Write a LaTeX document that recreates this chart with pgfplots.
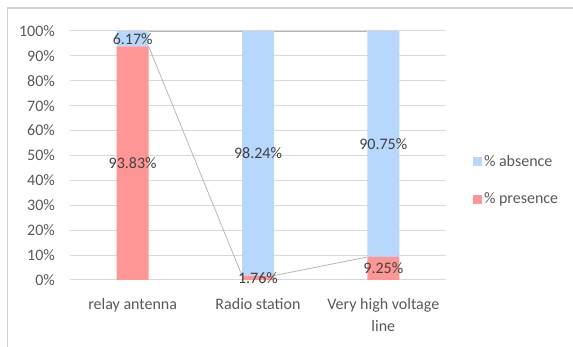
\documentclass[border=0pt]{standalone}
\usepackage{pgfplots}
\usepackage{pgfplotstable}
\pgfplotsset{compat=1.18}
\usepackage{fontspec}
\setmainfont{Carlito}
\definecolor{presence}{RGB}{255,150,150}
\definecolor{absence}{RGB}{183,215,253}
\definecolor{txt}{RGB}{89,89,89}
\definecolor{lbl}{RGB}{64,64,64}
\definecolor{gridc}{RGB}{217,217,217}
\definecolor{framec}{RGB}{212,212,212}
\definecolor{serc}{RGB}{180,180,180}

\pgfplotstableread{
x base v
0 0     93.83
1 0     1.76
2 0     9.25
0 93.83 6.17
1 1.76  98.24
2 9.25  90.75
}\labeltable

\begin{document}
\begin{tikzpicture}[x=1pt,y=1pt]
\useasboundingbox (0,0) rectangle (573,347);
\draw[framec, line width=1.2pt] (7.5,0) -- (7.5,339) -- (573,339);
\pgfplotsset{chartbase/.style={
  width=376pt, height=249pt, scale only axis,
  at={(70pt,67pt)}, anchor=south west,
  xmin=-0.5, xmax=2.5, ymin=0, ymax=100,
  /pgf/number format/assume math mode=true,
}}
\begin{axis}[chartbase,
  ybar stacked, bar width=32pt,
  xtick={0,1,2},
  xticklabels={relay antenna, Radio station, {Very high voltage\\line}},
  ytick={0,10,...,100},
  yticklabel={\pgfmathprintnumber{\tick}\%},
  ymajorgrids, grid style={gridc, line width=1pt},
  axis line style={draw=none}, major tick length=0pt,
  tick label style={font=\fontsize{16}{22}\selectfont, text=txt},
  xticklabel style={align=center, anchor=north, inner sep=0pt, yshift=-18.5pt},
  yticklabel style={anchor=east, inner sep=0pt, xshift=-15pt},
  reverse legend,
  legend style={at={(1.07,0.40)}, anchor=west, draw=none, fill=none,
    font=\fontsize{16}{18}\selectfont, text=txt, row sep=20pt,
    inner sep=0pt, nodes={inner sep=2.5pt}},
  legend cell align=left,
  legend image code/.code={\fill[#1] (0pt,-4.5pt) rectangle (9pt,4.5pt);},
]
\addplot[fill=presence, draw=none] coordinates {(0,93.83) (1,1.76) (2,9.25)};
\addplot[fill=absence, draw=none] coordinates {(0,6.17) (1,98.24) (2,90.75)};
\legend{\% presence, \% absence}
\end{axis}
\begin{axis}[chartbase, hide axis, clip=false]
% series lines joining the segment tops of neighbouring columns
\addplot[serc, line width=0.75pt] coordinates {(0.1275,93.83) (0.8725,1.76)};
\addplot[serc, line width=0.75pt] coordinates {(1.1275,1.76) (1.8725,9.25)};
\addplot[serc, line width=0.75pt] coordinates {(0.1275,100) (0.8725,100)};
\addplot[serc, line width=0.75pt] coordinates {(1.1275,100) (1.8725,100)};
% data labels centred on each segment
\addplot[draw=none, mark=none, point meta=explicit,
  nodes near coords={\pgfmathprintnumber[fixed,fixed zerofill,precision=2]{\pgfplotspointmeta}\%},
  nodes near coords align=center,
  every node near coord/.append style={font=\fontsize{16}{18}\selectfont, text=lbl, inner sep=0pt}]
  table[x=x, y expr=\thisrow{base}+\thisrow{v}/2, meta=v] {\labeltable};
\end{axis}
\end{tikzpicture}
\end{document}
